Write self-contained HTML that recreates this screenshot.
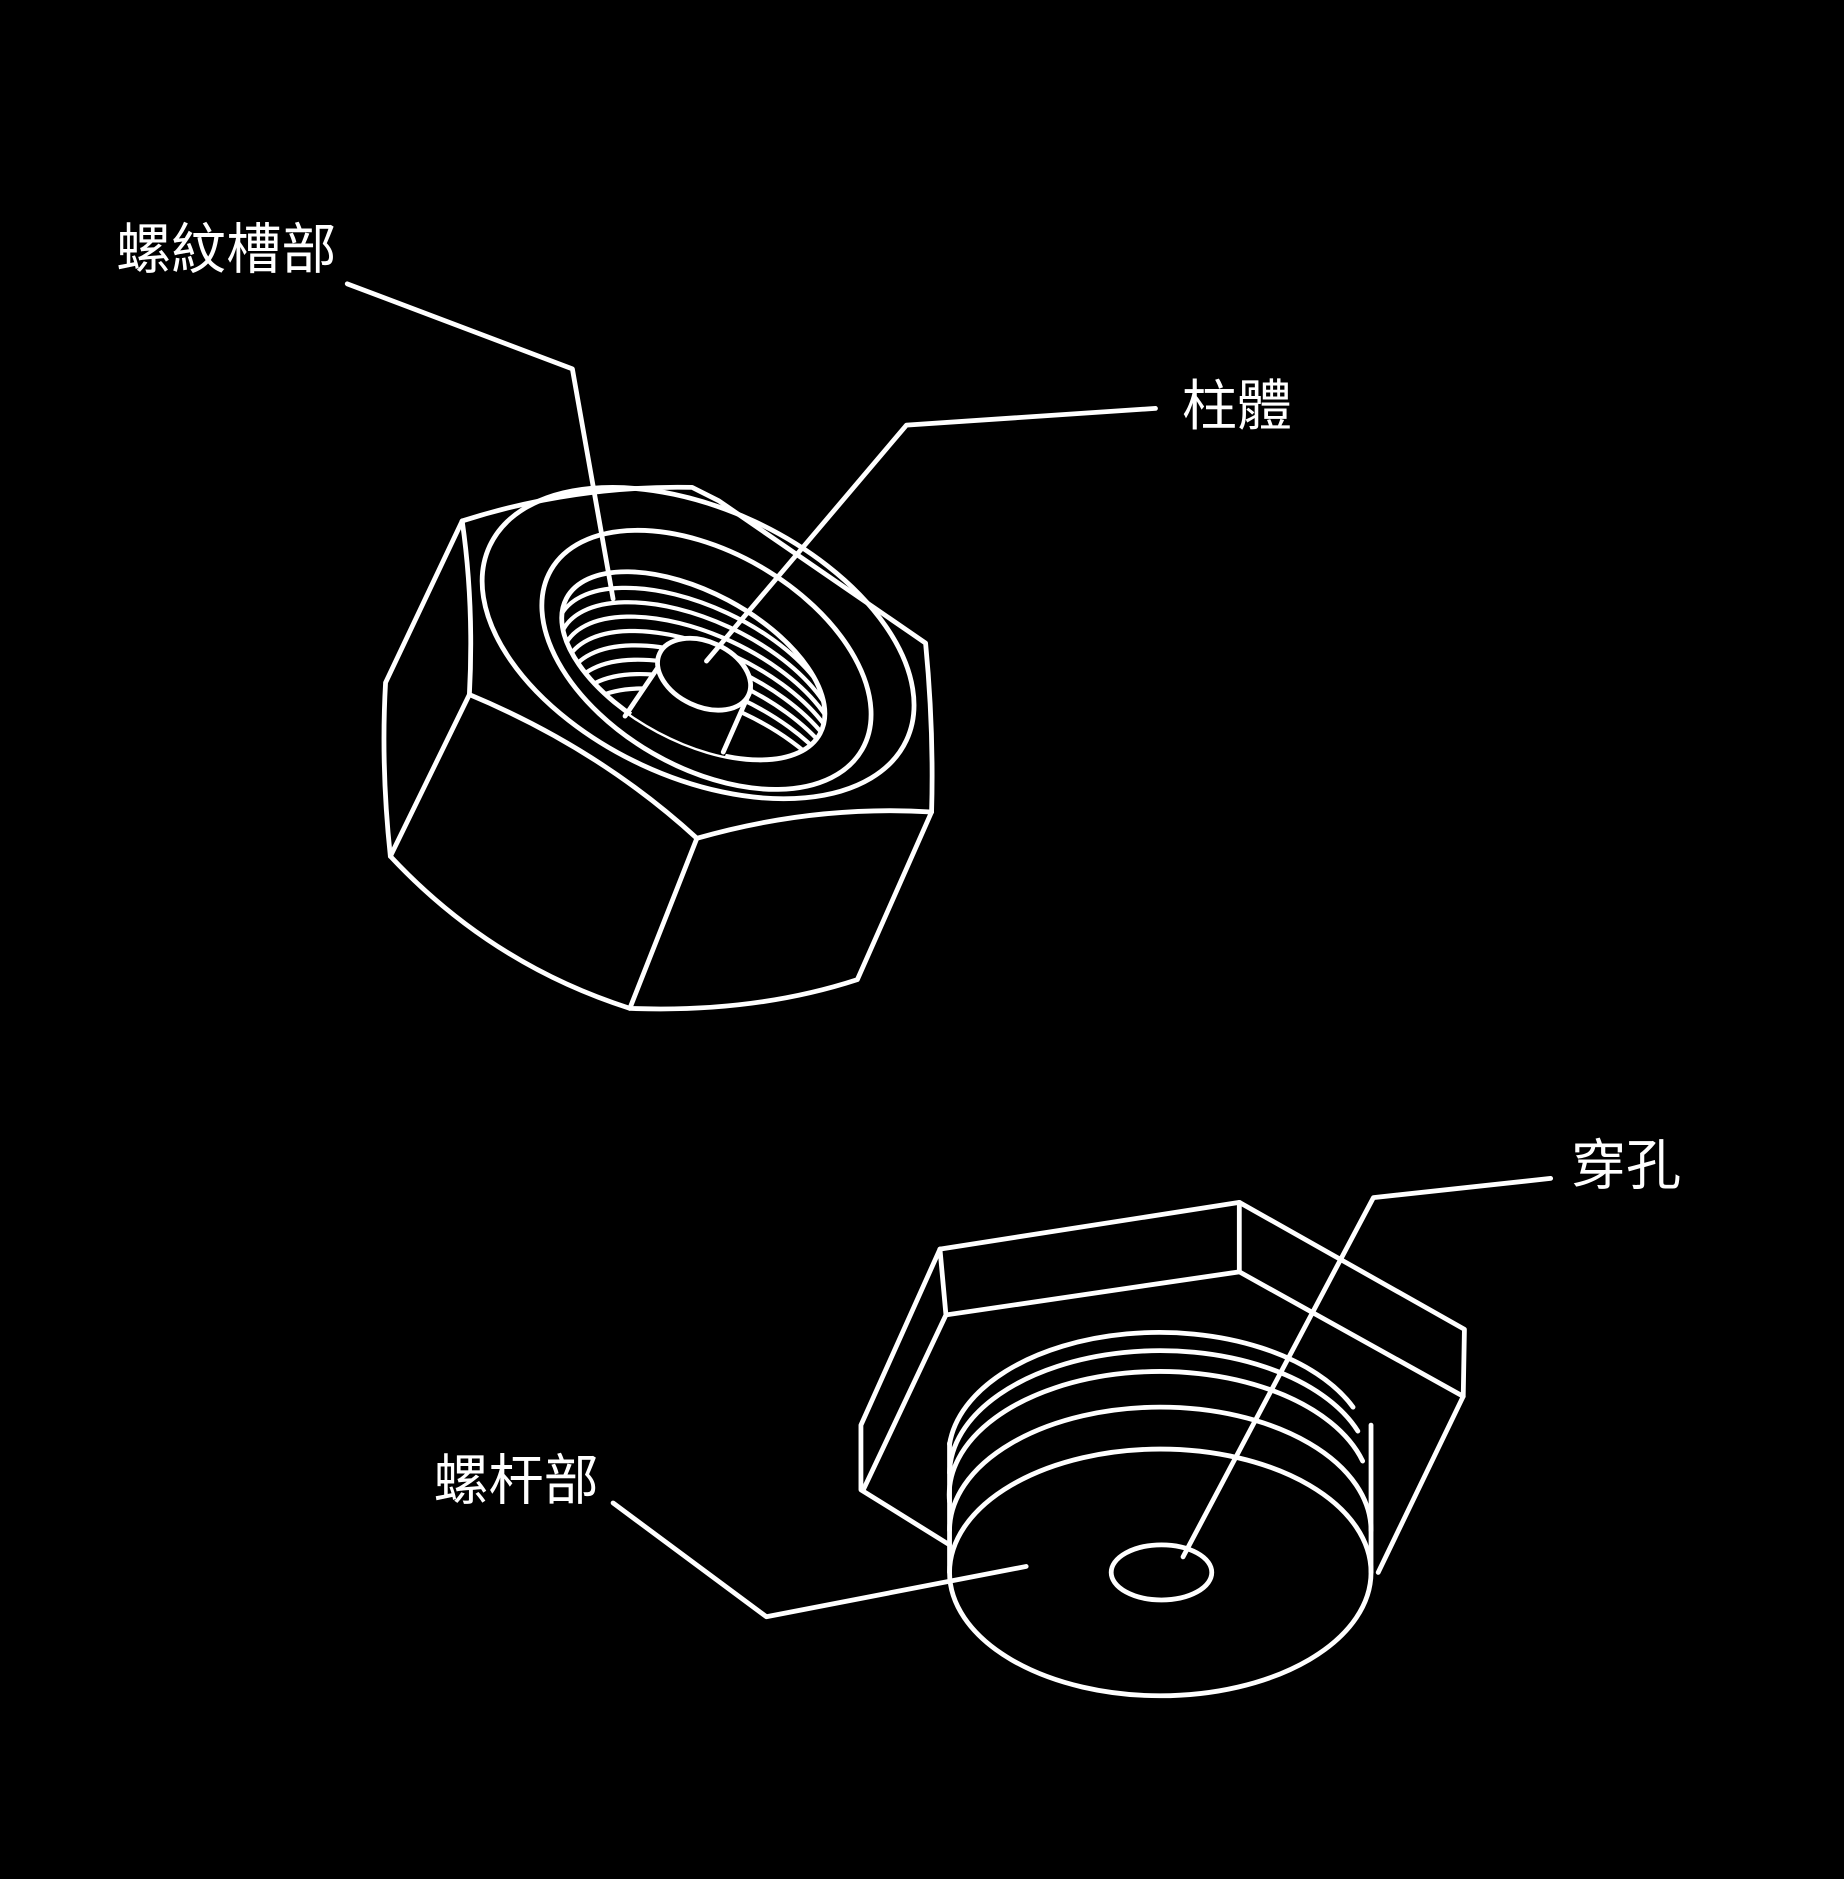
<!DOCTYPE html>
<html><head><meta charset="utf-8"><style>
html,body{margin:0;padding:0;background:#000;}
svg{display:block;}
text{font-family:"Liberation Sans","Noto Sans CJK TC",sans-serif;fill:#fff;font-size:46px;}
</style></head><body>
<svg width="1844" height="1879" viewBox="0 0 1540 1569" preserveAspectRatio="none" xmlns="http://www.w3.org/2000/svg">
<rect width="1540" height="1569" fill="#000"/>
<defs>
<clipPath id="hole"><ellipse cx="579" cy="556" rx="120" ry="62" transform="rotate(28 579 556)"/></clipPath>
</defs>
<g fill="none" stroke="#fff" stroke-width="4" stroke-linejoin="round" stroke-linecap="round">
<path d="M386,435 Q480,405 578,407 L600,418 L773,537 Q780,610 778,678"/>
<path d="M386,435 L322,570 Q318,640 326,715"/>
<path d="M386,435 Q396,505 392,580"/>
<path d="M392,580 Q500,625 582,700 Q680,672 778,678"/>
<path d="M392,580 L326,715"/>
<path d="M326,715 Q410,805 526,842 Q630,846 716,818 L778,678"/>
<path d="M582,700 L526,842"/>
<ellipse cx="583" cy="537" rx="192" ry="112" transform="rotate(25 583 537)"/>
<ellipse cx="590" cy="551" rx="150" ry="90" transform="rotate(30 590 551)"/>
<ellipse cx="579" cy="556" rx="120" ry="62" transform="rotate(28 579 556)"/>
<g clip-path="url(#hole)" stroke-width="3.5">
<ellipse cx="581" cy="568" rx="125" ry="62" transform="rotate(25 581 568)"/>
<ellipse cx="583" cy="580" rx="125" ry="62" transform="rotate(25 583 580)"/>
<ellipse cx="585" cy="592" rx="125" ry="62" transform="rotate(25 585 592)"/>
<ellipse cx="587" cy="604" rx="125" ry="62" transform="rotate(25 587 604)"/>
<ellipse cx="589" cy="616" rx="125" ry="62" transform="rotate(25 589 616)"/>
<ellipse cx="591" cy="628" rx="125" ry="62" transform="rotate(25 591 628)"/>
<ellipse cx="593" cy="640" rx="125" ry="62" transform="rotate(25 593 640)"/>
<ellipse cx="595" cy="652" rx="125" ry="62" transform="rotate(25 595 652)"/>
<path d="M548,560 L518,612 L602,640 L628,575 Z" fill="#000" stroke="none"/>
</g>
<path d="M549,558 L522,598"/>
<path d="M627,576 L604,628"/>
<ellipse cx="588" cy="563" rx="41" ry="27" transform="rotate(25 588 563)" fill="#000"/>
<path d="M290,237 L478,308 L512,500"/>
<path d="M965,341 L757,355 L590,552"/>
<path d="M1295,984 L1147,1000 L988,1300"/>
<path d="M512,1255 L640,1350 L857,1308"/>
<path d="M785,1043 L1035,1004 L1223,1110 L1222,1166 L1151,1313"/>
<path d="M1035,1004 L1035,1062"/>
<path d="M785,1043 L790,1098 L1035,1062 L1222,1166"/>
<path d="M785,1043 L719,1190 L719,1244 L793,1290"/>
<path d="M790,1098 L721,1244"/>
<path d="M793,1313 L793,1205"/>
<path d="M1145,1313 L1145,1190"/>
<path d="M793,1206 A176,103 0 0 1 1130,1175"/>
<path d="M793,1230 A176,103 0 0 1 1134,1195"/>
<path d="M793,1254 A176,103 0 0 1 1138,1220"/>
<path d="M793,1278 A176,103 0 0 1 1145,1278"/>
<ellipse cx="969" cy="1313" rx="176" ry="103"/>
<ellipse cx="970" cy="1313" rx="42" ry="23"/>
</g>
<text x="97" y="224">螺紋槽部</text>
<text x="987" y="355">柱體</text>
<text x="1312" y="989">穿孔</text>
<text x="362" y="1252">螺杆部</text>
</svg>
</body></html>
